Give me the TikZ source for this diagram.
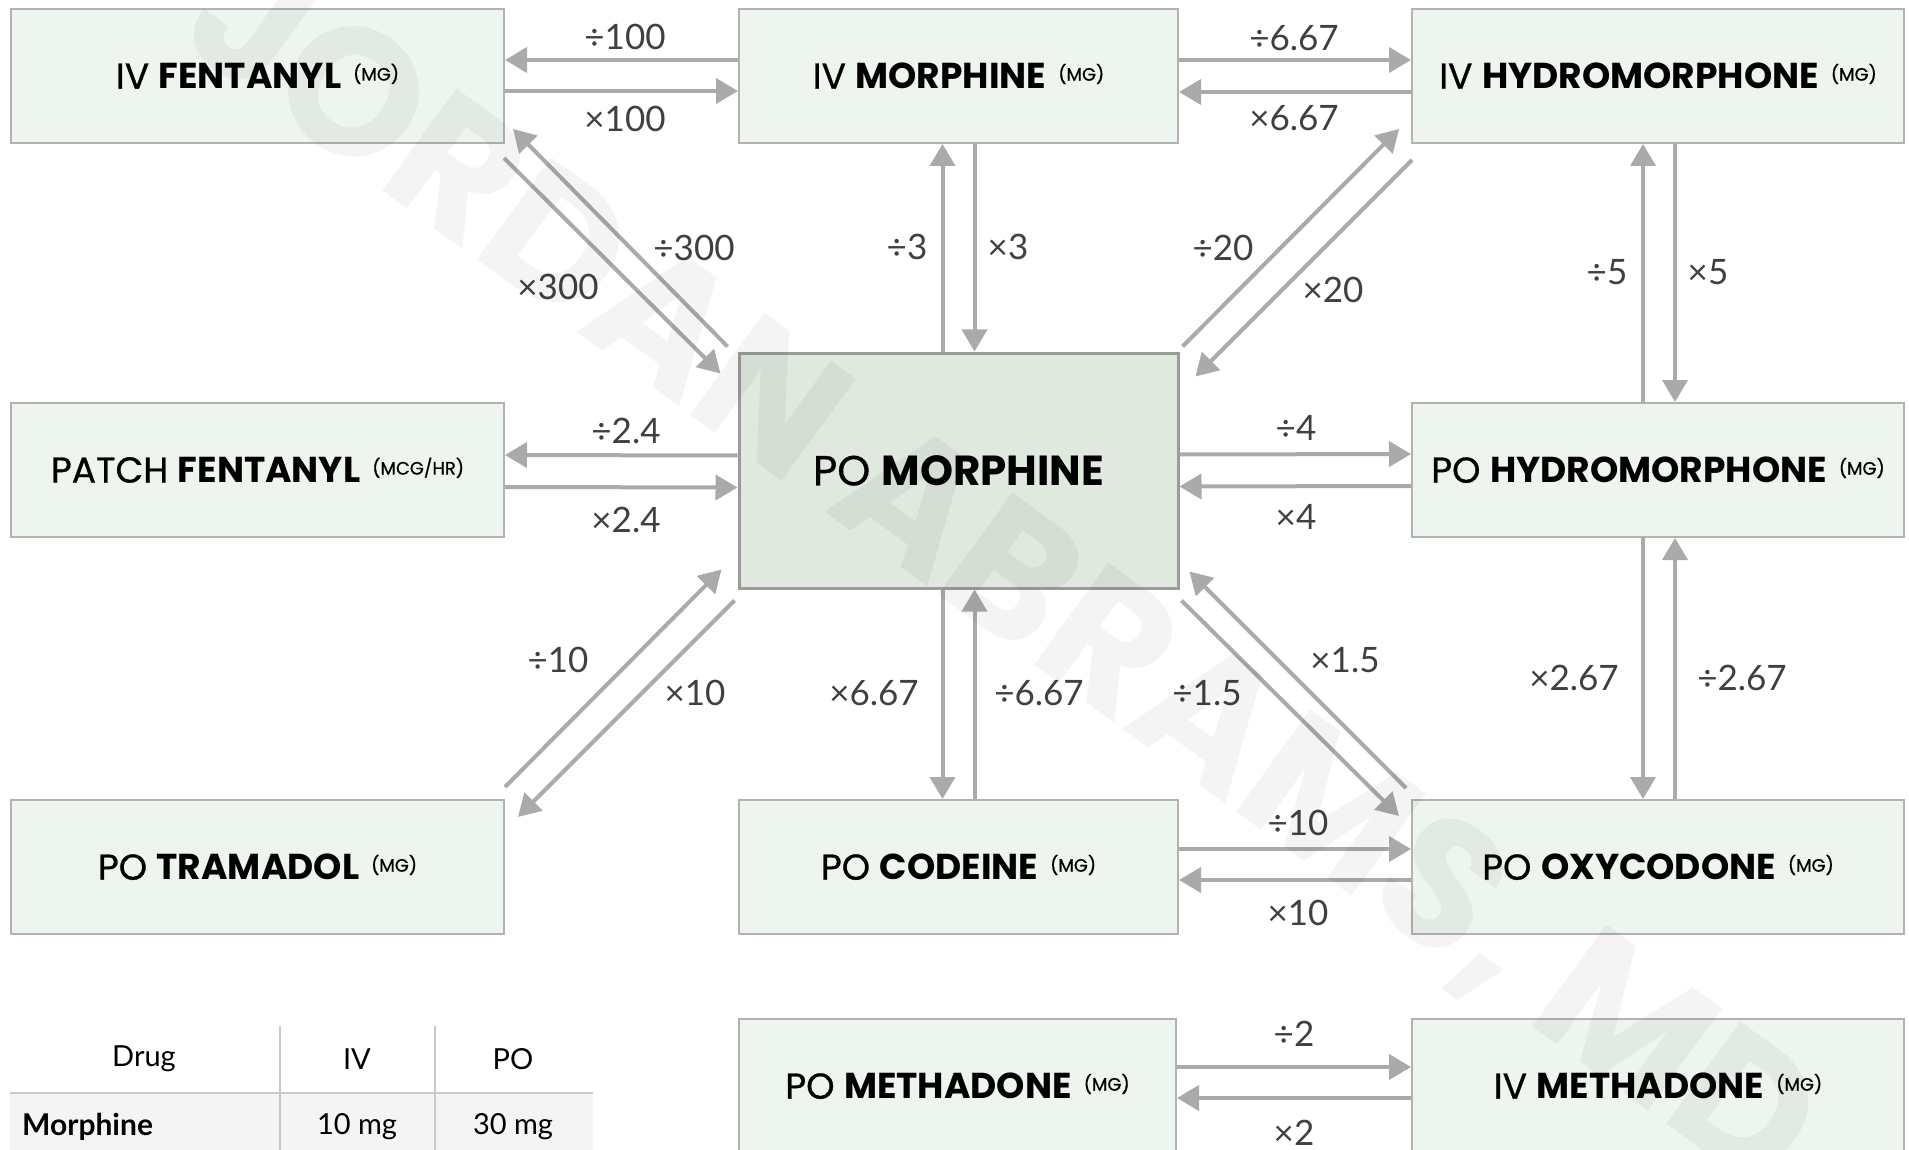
\documentclass[tikz,border=0pt]{standalone}
\usepackage{fontspec}
\usetikzlibrary{arrows.meta,calc}
\setmainfont{Lato}
\newfontfamily\tfont{Poppins}[UprightFeatures={FakeBold=0.8}]
\newfontfamily\wfont{Poppins}
\newfontfamily\lfont{Lato}
\definecolor{boxfill}{RGB}{238,245,239}
\definecolor{cfill}{RGB}{223,233,222}
\definecolor{boxline}{RGB}{178,178,178}
\definecolor{cline}{RGB}{155,155,155}
\definecolor{arrgray}{RGB}{170,170,170}
\definecolor{lblgray}{RGB}{64,64,64}
\definecolor{rowfill}{RGB}{244,244,244}
\definecolor{tblline}{RGB}{200,200,200}
\newcommand{\boxtitle}[3]{{\tfont\fontsize{36}{40}\selectfont #1 \textbf{#2}\hspace{12pt}\raisebox{8pt}{\fontsize{18}{21}\selectfont (#3)}}}
\tikzset{
  drugbox/.style={draw=boxline, line width=2pt, fill=boxfill, inner sep=0pt, minimum height=134pt},
  centerbox/.style={draw=cline, line width=3pt, fill=cfill, inner sep=0pt},
  arr/.style={draw=arrgray, line width=4pt, -{Triangle[length=22pt,width=25pt]}},
  lbl/.style={font=\lfont\fontsize{35}{38}\selectfont, text=lblgray, inner sep=0pt},
  tbl/.style={font=\lfont\fontsize{29}{32}\selectfont, text=black, inner sep=0pt}
}
\begin{document}
\begin{tikzpicture}[x=1pt,y=-1pt]
\useasboundingbox (0,0) rectangle (1909,1150);
\fill[white] (0,0) rectangle (1909,1150);

% boxes
\node[drugbox, minimum width=493pt] (fent) at (257.5,76) {\boxtitle{IV}{FENTANYL}{MG}};
\node[drugbox, minimum width=439pt] (ivm) at (958.5,76) {\boxtitle{IV}{MORPHINE}{MG}};
\node[drugbox, minimum width=492pt] (ivh) at (1658,76) {\boxtitle{IV}{HYDROMORPHONE}{MG}};
\node[drugbox, minimum width=493pt] (patch) at (257.5,470) {\boxtitle{PATCH}{FENTANYL}{MCG/HR}};
\node[centerbox, minimum width=439pt, minimum height=235pt] (pom) at (958.5,470.5) {{\tfont\fontsize{42}{48}\selectfont PO \textbf{MORPHINE}}};
\node[drugbox, minimum width=492pt] (poh) at (1658,470) {\boxtitle{PO}{HYDROMORPHONE}{MG}};
\node[drugbox, minimum width=493pt] (tram) at (257.5,867) {\boxtitle{PO}{TRAMADOL}{MG}};
\node[drugbox, minimum width=439pt] (cod) at (958.5,867) {\boxtitle{PO}{CODEINE}{MG}};
\node[drugbox, minimum width=492pt] (oxy) at (1658,867) {\boxtitle{PO}{OXYCODONE}{MG}};
\node[drugbox, minimum width=437pt] (pometh) at (957.5,1086) {\boxtitle{PO}{METHADONE}{MG}};
\node[drugbox, minimum width=492pt] (ivmeth) at (1658,1086) {\boxtitle{IV}{METHADONE}{MG}};

% horizontal arrows
\draw[arr] ([shift={(0,-16)}]ivm.west) -- ([shift={(0,-16)}]fent.east);
\draw[arr] ([shift={(0,15)}]fent.east) -- ([shift={(0,15)}]ivm.west);
\draw[arr] ([shift={(0,-16)}]ivm.east) -- ([shift={(0,-16)}]ivh.west);
\draw[arr] ([shift={(0,16)}]ivh.west) -- ([shift={(0,16)}]ivm.east);
\draw[arr] ([shift={(0,-15)}]pom.west) -- ([shift={(0,-15)}]patch.east);
\draw[arr] ([shift={(0,17)}]patch.east) -- ([shift={(0,17)}]pom.west);
\draw[arr] ([shift={(0,-16)}]pom.east) -- ([shift={(0,-16)}]poh.west);
\draw[arr] ([shift={(0,16)}]poh.west) -- ([shift={(0,16)}]pom.east);
\draw[arr] ([shift={(0,-18)}]cod.east) -- ([shift={(0,-18)}]oxy.west);
\draw[arr] ([shift={(0,13)}]oxy.west) -- ([shift={(0,13)}]cod.east);
\draw[arr] ([shift={(0,-19)}]pometh.east) -- ([shift={(0,-19)}]ivmeth.west);
\draw[arr] ([shift={(0,12)}]ivmeth.west) -- ([shift={(0,12)}]pometh.east);

% vertical arrows
\draw[arr] ([shift={(-16,0)}]pom.north) -- ([shift={(-16,0)}]ivm.south);
\draw[arr] ([shift={(16,0)}]ivm.south) -- ([shift={(16,0)}]pom.north);
\draw[arr] ([shift={(-16,0)}]pom.south) -- ([shift={(-16,0)}]cod.north);
\draw[arr] ([shift={(16,0)}]cod.north) -- ([shift={(16,0)}]pom.south);
\draw[arr] ([shift={(-15,0)}]poh.north) -- ([shift={(-15,0)}]ivh.south);
\draw[arr] ([shift={(17,0)}]ivh.south) -- ([shift={(17,0)}]poh.north);
\draw[arr] ([shift={(-15,0)}]poh.south) -- ([shift={(-15,0)}]oxy.north);
\draw[arr] ([shift={(17,0)}]oxy.north) -- ([shift={(17,0)}]poh.south);

% diagonal arrows
\draw[arr] ([shift={(-10,-5)}]pom.north west) -- ([shift={(8,-15)}]fent.south east);
\draw[arr] ([shift={(-1,14)}]fent.south east) -- ([shift={(-17,22)}]pom.north west);
\draw[arr] ([shift={(3,-5)}]pom.north east) -- ([shift={(-12,-15)}]ivh.south west);
\draw[arr] ([shift={(1,16)}]ivh.south west) -- ([shift={(16,25)}]pom.north east);
\draw[arr] ([shift={(0,-12)}]tram.north east) -- ([shift={(-16,-20)}]pom.south west);
\draw[arr] ([shift={(-3,11)}]pom.south west) -- ([shift={(13,18)}]tram.north east);
\draw[arr] ([shift={(-5,-11)}]oxy.north west) -- ([shift={(10,-18)}]pom.south east);
\draw[arr] ([shift={(2,11)}]pom.south east) -- ([shift={(-12,17)}]oxy.north west);

% labels
\node[lbl] (l1) at (625,37) {÷100};
\node[lbl] (l2) at (625,119) {×100};
\node[lbl] (l3) at (1294,38) {÷6.67};
\node[lbl] (l4) at (1294,118) {×6.67};
\node[lbl] (l5) at (626,431) {÷2.4};
\node[lbl] (l6) at (626,520) {×2.4};
\node[lbl] (l7) at (1296,428) {÷4};
\node[lbl] (l8) at (1296,517) {×4};
\node[lbl] (l9) at (1298,823) {÷10};
\node[lbl] (l10) at (1298,913) {×10};
\node[lbl] (l11) at (1294,1034) {÷2};
\node[lbl] (l12) at (1294,1133) {×2};
\node[lbl] (l13) at (907,247) {÷3};
\node[lbl] (l14) at (1008,247) {×3};
\node[lbl] (l15) at (874,693) {×6.67};
\node[lbl] (l16) at (1039,693) {÷6.67};
\node[lbl] (l17) at (1607,272) {÷5};
\node[lbl] (l18) at (1708,272) {×5};
\node[lbl] (l19) at (1574,678) {×2.67};
\node[lbl] (l20) at (1742,678) {÷2.67};
\node[lbl] (l21) at (694,248) {÷300};
\node[lbl] (l22) at (558,287) {×300};
\node[lbl] (l23) at (1223,248) {÷20};
\node[lbl] (l24) at (1333,290) {×20};
\node[lbl] (l25) at (558,660) {÷10};
\node[lbl] (l26) at (695,693) {×10};
\node[lbl] (l27) at (1345,660) {×1.5};
\node[lbl] (l28) at (1207,693) {÷1.5};

% table
\fill[rowfill] (10,1093) rectangle (593,1152);
\draw[tblline, line width=2pt] (10,1093) -- (593,1093);
\draw[tblline, line width=2pt] (280,1026) -- (280,1152);
\draw[tblline, line width=2pt] (435,1026) -- (435,1152);
\node[tbl] (h1) at (144,1059) {Drug};
\node[tbl] (h2) at (357,1059) {IV};
\node[tbl] (h3) at (513,1059) {PO};
\node[tbl, anchor=west] (r1) at (22,1127) {\fontsize{30}{32}\selectfont\textbf{Morphine}};
\node[tbl] (r2) at (357,1127) {10 mg};
\node[tbl] (r3) at (513,1127) {30 mg};

% watermark
\node[rotate=-36, font=\wfont\bfseries\fontsize{180}{180}\selectfont, text=black, text opacity=0.045, inner sep=0pt] (wm) at (1000,575) {JORDAN ABRAMS, MD};
\end{tikzpicture}
\end{document}
